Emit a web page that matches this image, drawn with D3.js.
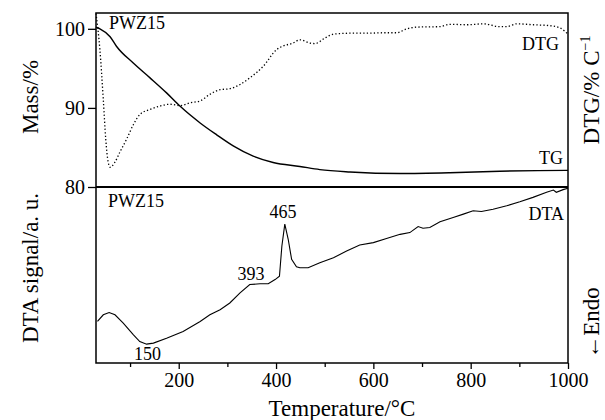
<!DOCTYPE html>
<html>
<head>
<meta charset="utf-8">
<script src="https://cdn.jsdelivr.net/npm/d3@7"></script>
<style>
  body { margin: 0; background: #fff; }
  svg { display: block; }
  text { font-family: "Liberation Serif", "Times New Roman", serif; fill: #000; }
  .axis path, .axis line { stroke: #000; stroke-width: 1.3; }
  .axis text { font-size: 20px; font-family: "Liberation Serif", serif; }
</style>
</head>
<body>
<div id="chart"></div>
<script>
// TG mass loss curve (temperature, mass %)
var tgTemp = [30, 38, 59, 72, 106, 141, 175, 203, 244, 278, 312, 353, 394, 449, 490, 552, 655, 757, 860, 997, 1000];
var tgMass = [100.2, 100.0, 99.0, 97.8, 95.7, 93.8, 91.9, 90.2, 88.1, 86.6, 85.2, 83.9, 83.1, 82.6, 82.2, 81.9, 81.7, 81.8, 82.0, 82.1, 82.1];

// DTG curve (temperature, %/°C)
var dtgTemp = [30, 38, 45, 50, 55, 59, 69, 79, 93, 107, 120, 141, 161, 182, 203, 223, 244, 264, 285, 305, 326, 346, 374, 401, 415, 435, 449, 470, 480, 501, 518, 552, 586, 620, 648, 668, 689, 737, 757, 792, 826, 860, 874, 895, 929, 963, 984, 1000];
var dtgVal = [0.019, -0.058, -0.164, -0.248, -0.297, -0.308, -0.297, -0.276, -0.248, -0.217, -0.196, -0.185, -0.178, -0.174, -0.177, -0.171, -0.167, -0.153, -0.143, -0.141, -0.132, -0.118, -0.093, -0.058, -0.050, -0.044, -0.037, -0.044, -0.045, -0.033, -0.025, -0.023, -0.023, -0.022, -0.022, -0.014, -0.010, -0.009, -0.004, -0.005, -0.003, -0.009, -0.009, -0.003, -0.005, -0.007, -0.012, -0.025];

// DTA signal (temperature, arbitrary units)
var dtaTemp = [33, 45, 57, 69, 86, 107, 120, 134, 148, 175, 209, 244, 264, 285, 305, 326, 346, 367, 384, 398, 407, 412, 418, 425, 432, 442, 449, 466, 490, 518, 545, 572, 600, 627, 655, 675, 692, 702, 716, 737, 764, 785, 805, 822, 846, 874, 901, 928, 956, 970, 976, 990, 1000];
var dtaVal = [23.6, 27.4, 28.7, 27.4, 22.7, 16.0, 12.2, 10.7, 11.3, 14.1, 17.9, 23.6, 27.4, 30.3, 34.1, 39.8, 44.6, 45.0, 45.0, 47.4, 49.3, 66.5, 78.9, 70.3, 58.9, 54.7, 54.1, 54.1, 57.0, 59.8, 63.6, 67.0, 68.4, 70.7, 73.1, 74.1, 77.5, 76.6, 77.0, 80.2, 82.7, 84.6, 86.5, 86.1, 87.4, 89.3, 91.6, 94.1, 97.0, 98.3, 97.0, 98.5, 99.3];

var xMajorTicks = [200, 400, 600, 800, 1000];
var xMinorTicks = [100, 300, 500, 700, 900];
var massTicks = [80, 90, 100];

var peakLabels = [
  { t: 150, text: "150", x: 147.5, y: 360 },
  { t: 393, text: "393", x: 251, y: 280 },
  { t: 465, text: "465", x: 283, y: 218 }
];

var vars = {};
vars.width = 605;
vars.height = 420;
vars.plot = { left: 96, right: 568, top: 13, mid: 187, bottom: 363 };

var fn = {};

fn.zip = function(xs, ys) {
  return xs.map(function(x, i) { return { x: x, y: ys[i] }; });
};

fn.main = function() {
  var p = vars.plot;
  var svg = d3.select("#chart").append("svg")
    .attr("width", vars.width)
    .attr("height", vars.height);

  var x = d3.scaleLinear().domain([30, 1000]).range([p.left, p.right]);
  var yMass = d3.scaleLinear().domain([80, 102]).range([p.mid, p.top]);
  var yDtg = d3.scaleLinear().domain([-0.35, 0.02]).range([p.mid, p.top]);
  var yDta = d3.scaleLinear().domain([0, 100]).range([p.bottom, p.mid]);

  // left axis of the top panel
  svg.append("g")
    .attr("class", "axis")
    .attr("transform", "translate(" + p.left + ",0)")
    .call(d3.axisLeft(yMass).tickValues(massTicks).tickSize(8).tickSizeOuter(0).tickPadding(3))
    .call(function(g) { g.select(".domain").remove(); });

  // bottom axis, major + minor ticks
  svg.append("g")
    .attr("class", "axis")
    .attr("transform", "translate(0," + p.bottom + ")")
    .call(d3.axisBottom(x).tickValues(xMajorTicks).tickFormat(d3.format("d"))
      .tickSize(6).tickSizeOuter(0).tickPadding(4))
    .call(function(g) { g.select(".domain").remove(); });
  svg.append("g")
    .attr("class", "axis")
    .attr("transform", "translate(0," + p.bottom + ")")
    .call(d3.axisBottom(x).tickValues(xMinorTicks).tickSize(4).tickSizeOuter(0).tickFormat(""))
    .call(function(g) { g.select(".domain").remove(); });

  // frames
  svg.append("rect")
    .attr("x", p.left).attr("y", p.top)
    .attr("width", p.right - p.left).attr("height", p.bottom - p.top)
    .attr("fill", "none").attr("stroke", "#000").attr("stroke-width", 1.5);
  svg.append("line")
    .attr("x1", p.left).attr("x2", p.right)
    .attr("y1", p.mid).attr("y2", p.mid)
    .attr("stroke", "#000").attr("stroke-width", 1.8);

  var lineOf = function(ys) {
    return d3.line()
      .x(function(d) { return x(d.x); })
      .y(function(d) { return ys(d.y); })
      .curve(d3.curveMonotoneX);
  };

  svg.append("path")
    .datum(fn.zip(tgTemp, tgMass))
    .attr("d", lineOf(yMass))
    .attr("fill", "none").attr("stroke", "#000").attr("stroke-width", 1.4);

  svg.append("path")
    .datum(fn.zip(dtgTemp, dtgVal))
    .attr("d", lineOf(yDtg))
    .attr("fill", "none").attr("stroke", "#000").attr("stroke-width", 1.3)
    .attr("stroke-dasharray", "1.3,2.2");

  svg.append("path")
    .datum(fn.zip(dtaTemp, dtaVal))
    .attr("d", lineOf(yDta).curve(d3.curveLinear))
    .attr("fill", "none").attr("stroke", "#000").attr("stroke-width", 1.1);

  // in-plot labels
  var label = function(txt, xx, yy, anchor, size) {
    return svg.append("text")
      .attr("x", xx).attr("y", yy)
      .attr("text-anchor", anchor || "start")
      .style("font-size", (size || 18) + "px")
      .text(txt);
  };
  label("PWZ15", 109, 29);
  label("PWZ15", 108, 207);
  label("DTG", 559, 50, "end");
  label("TG", 563, 164, "end");
  label("DTA", 564, 220, "end");

  svg.selectAll("text.peak")
    .data(peakLabels)
    .enter().append("text")
    .attr("class", "peak")
    .attr("x", function(d) { return d.x; })
    .attr("y", function(d) { return d.y; })
    .attr("text-anchor", "middle")
    .style("font-size", "18px")
    .text(function(d) { return d.text; });

  // axis titles
  var title = function(txt, xx, yy, rot) {
    return svg.append("text")
      .attr("transform", "translate(" + xx + "," + yy + ")" + (rot ? " rotate(" + rot + ")" : ""))
      .attr("text-anchor", "middle")
      .style("font-size", "23px")
      .text(txt);
  };
  title("Temperature/°C", 342, 416);
  title("Mass/%", 38, 97, -90);
  title("DTA signal/a. u.", 38, 268, -90);
  title("←Endo", 599, 323, -90);

  var dtgTitle = svg.append("text")
    .attr("transform", "translate(599,90) rotate(-90)")
    .attr("text-anchor", "middle")
    .style("font-size", "23px");
  dtgTitle.append("tspan").text("DTG/% C");
  dtgTitle.append("tspan").attr("dy", -9).style("font-size", "14px").text("−1");
};

fn.main();
</script>
</body>
</html>
